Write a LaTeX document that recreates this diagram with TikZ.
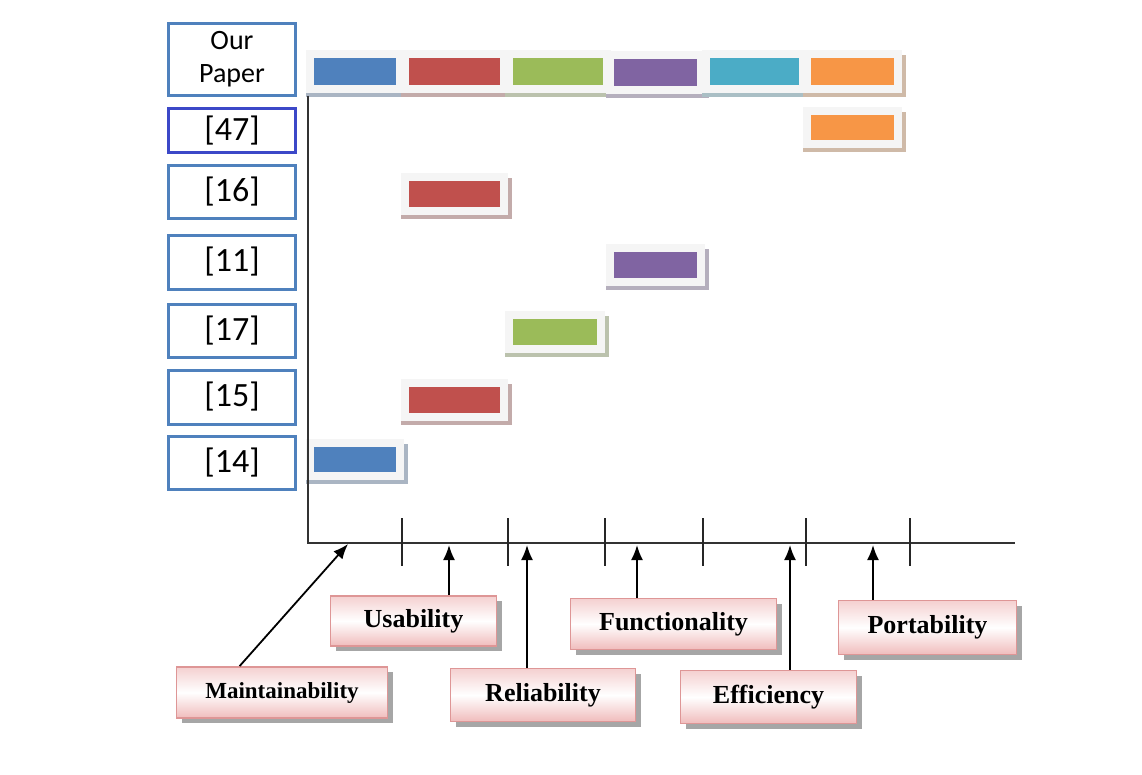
\documentclass[tikz,border=0pt]{standalone}
\usepackage{fontspec}
\setmainfont{Liberation Serif}
\newfontfamily\calib{Carlito}
\usetikzlibrary{arrows.meta,shadows}
\definecolor{cblue}{RGB}{79,129,189}
\definecolor{cred}{RGB}{192,80,77}
\definecolor{cgreen}{RGB}{155,187,89}
\definecolor{cpurple}{RGB}{128,100,162}
\definecolor{ccyan}{RGB}{75,172,198}
\definecolor{corange}{RGB}{247,150,70}
\definecolor{refedge}{RGB}{79,129,189}
\definecolor{refdark}{RGB}{60,72,200}
\definecolor{pinkedge}{RGB}{222,150,150}
\definecolor{pinkfill}{RGB}{240,188,188}
\tikzset{
  refbox/.style={draw=refedge, line width=3pt, fill=white, minimum width=127pt, inner sep=0pt, font=\calib\fontsize{34}{36}\selectfont},
  qual/.style={draw=pinkedge, line width=1.8pt, top color=pinkfill!70, bottom color=pinkfill, middle color=white, inner sep=0pt,
    drop shadow={shadow xshift=5pt, shadow yshift=-5pt, fill=black!50, opacity=0.7},
    font=\bfseries\fontsize{26}{28}\selectfont},
  axisline/.style={line width=2.2pt, black!80},
  tick/.style={line width=1.4pt, black!85},
  pointer/.style={line width=1.8pt, -{Latex[length=15pt,width=12pt]}},
}
% name, colour, x1, y1, x2, y2
\newcommand\qbar[6]{%
  \fill[black!4] ({#3-8},{#4-8}) rectangle ({#5+8},{#6+8});
  \fill[#2!55!black!40] ({#3-8},{#6+8}) rectangle ({#5+12},{#6+12});
  \fill[#2!55!black!40] ({#5+8},{#4-3}) rectangle ({#5+12},{#6+12});
  \node[fill=#2, inner sep=0pt, minimum width={(#5-#3)*1pt}, minimum height={(#6-#4)*1pt}] (#1) at ({(#3+#5)/2},{(#4+#6)/2}) {};
}
\begin{document}
\begin{tikzpicture}[x=1pt,y=-1pt]
\useasboundingbox (0,0) rectangle (1142,774);
% reference boxes
\node[refbox, minimum height=72pt, font=\calib\fontsize{28}{33}\selectfont, align=center] (our) at (232,59) {Our\\Paper};
\node[refbox, draw=refdark, line width=3.8pt, minimum height=44pt] (r47) at (232,130.5) {[47]};
\node[refbox, minimum height=53pt] (r16) at (232,191.5) {[16]};
\node[refbox, minimum height=54pt] (r11) at (232,262) {[11]};
\node[refbox, minimum height=53pt] (r17) at (232,330.5) {[17]};
\node[refbox, minimum height=54pt] (r15) at (232,397) {[15]};
\node[refbox, minimum height=53pt] (r14) at (232,462.5) {[14]};
% bars of our paper
\qbar{b1}{cblue}{314}{58}{396}{85}
\qbar{b2}{cred}{409}{58}{500}{85}
\qbar{b3}{cgreen}{513}{58}{603}{85}
\qbar{b4}{cpurple}{614}{59}{697}{86}
\qbar{b5}{ccyan}{710}{58}{799}{85}
\qbar{b6}{corange}{811}{58}{894}{85}
% other rows
\qbar{c47}{corange}{811}{115}{894}{140}
\qbar{c16}{cred}{409}{181}{500}{207}
\qbar{c11}{cpurple}{614}{252}{697}{278}
\qbar{c17}{cgreen}{513}{319}{597}{345}
\qbar{c15}{cred}{409}{387}{500}{413}
\qbar{c14}{cblue}{314}{447}{396}{472}
% axes
\coordinate (top) at (308,96);
\coordinate (o) at (308,543);
\coordinate (xend) at (1015,543);
\draw[axisline] (top) -- (o) -- (xend);
\foreach \t/\x in {t1/402,t2/508,t3/605,t4/703,t5/806,t6/910}{
  \coordinate (\t a) at (\x,518);
  \coordinate (\t b) at (\x,566);
  \draw[tick] (\t a) -- (\t b);
}
% quality labels
\node[qual, minimum width=166pt, minimum height=50pt] (usa) at (413.5,621) {Usability};
\node[qual, minimum width=206pt, minimum height=51pt] (fun) at (673.5,624) {Functionality};
\node[qual, minimum width=178pt, minimum height=54pt] (por) at (927.5,627.5) {Portability};
\node[qual, minimum width=211pt, minimum height=51pt, font=\bfseries\fontsize{23}{25}\selectfont] (mai) at (282,692.5) {Maintainability};
\node[qual, minimum width=185pt, minimum height=53pt] (rel) at (543,695) {Reliability};
\node[qual, minimum width=176pt, minimum height=53pt] (eff) at (768.5,697) {Efficiency};
% pointers
\coordinate (pm) at (348,544);
\coordinate (pu) at (449,545);
\coordinate (pr) at (527,545);
\coordinate (pf) at (637,545);
\coordinate (pe) at (790,545);
\coordinate (pp) at (873,545);
\draw[pointer] (mai.north west) ++(64,0) coordinate (sm) -- (pm);
\draw[pointer] (usa.north -| pu) -- (pu);
\draw[pointer] (rel.north -| pr) -- (pr);
\draw[pointer] (fun.north -| pf) -- (pf);
\draw[pointer] (eff.north -| pe) -- (pe);
\draw[pointer] (por.north -| pp) -- (pp);
\end{tikzpicture}
\end{document}
